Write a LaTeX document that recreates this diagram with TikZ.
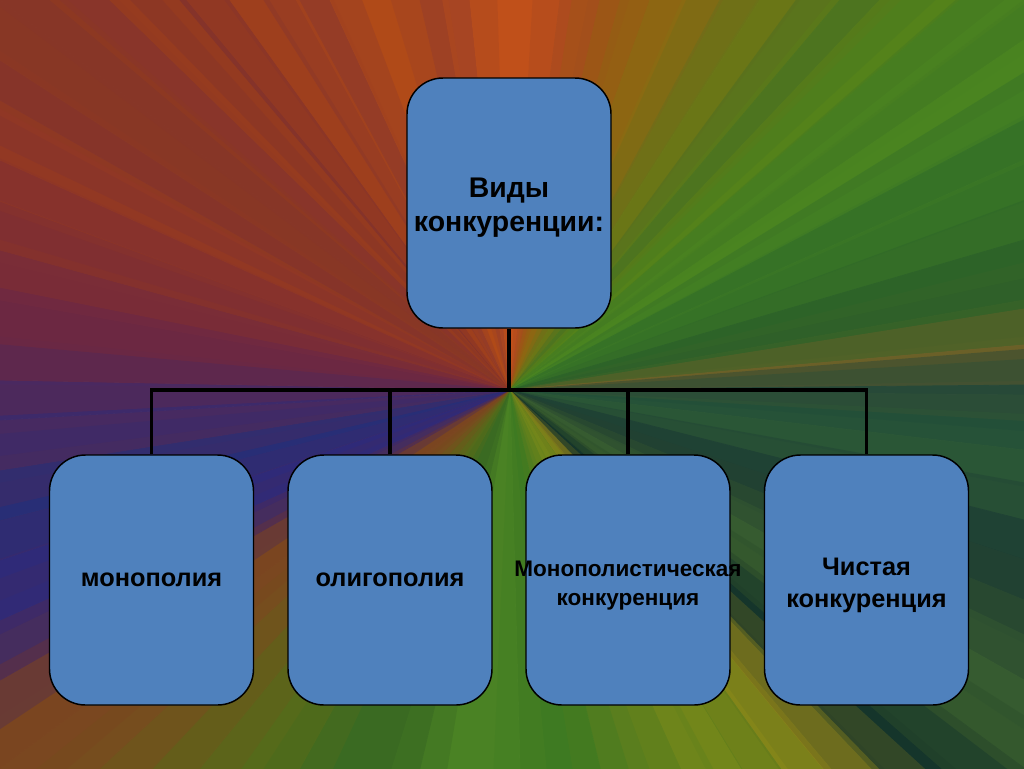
\documentclass[tikz,border=0pt]{standalone}
\usepackage{fontspec}
\setmainfont{Liberation Sans}
\usetikzlibrary{calc}
\definecolor{boxblue}{HTML}{4F81BD}
\begin{document}
\begin{tikzpicture}[x=0.75pt,y=-0.75pt,
  box/.style={draw=black, line width=1.1pt, fill=boxblue, rounded corners=27pt,
    minimum width=153pt, minimum height=187.5pt, inner sep=0pt, align=center,
    font=\bfseries\fontsize{19}{24}\selectfont},
  conn/.style={line width=2.4pt, draw=black},
  wedge/.style={fill=wc, draw=wc, line width=0.6pt},
  blend/.style={fill=wc, fill opacity=0.35}]
\useasboundingbox (0,0) rectangle (1024,768);
% ---------- radial background ----------
\coordinate (ctr) at (510,390);
\def\wedgelist{
  0/0/60/0/8C3A22, 60/0/110/0/7A2E3A, 110/0/180/0/A04018, 180/0/230/0/7E3030,
  230/0/300/0/A84418, 300/0/330/0/7E3236, 330/0/420/0/B04A18, 420/0/470/0/9A4028,
  470/0/560/0/C0501A, 560/0/600/0/A84A20, 600/0/650/0/9A5A14, 650/0/720/0/8A6A12,
  720/0/760/0/6E6E1A, 760/0/840/0/6A7A16, 840/0/880/0/3E6A28, 880/0/960/0/5A8218,
  960/0/1024/0/4A8220,
  1024/0/1024/40/3E7424, 1024/40/1024/120/4E8A20, 1024/120/1024/160/2E6A2A,
  1024/160/1024/240/3A7626, 1024/240/1024/300/2A5E2A, 1024/300/1024/345/3A6428,
  1024/345/1024/385/7A6028, 1024/385/1024/395/14403C, 1024/395/1024/450/224E3A,
  1024/450/1024/520/2E5A36, 1024/520/1024/600/1C3C34, 1024/600/1024/680/2C4C30,
  1024/680/1024/768/3A6030,
  1024/768/940/768/2A4A2A, 940/768/870/768/10302C, 870/768/830/768/6A6A20,
  830/768/780/768/9A8C18, 780/768/740/768/5A7A1C, 740/768/680/768/7A8A1A,
  680/768/600/768/5A7E1E, 600/768/520/768/3E7A22, 520/768/420/768/4A8224,
  420/768/300/768/3A6A22, 300/768/200/768/556A1A, 200/768/100/768/6A5A1A,
  100/768/0/768/7A4A20,
  0/768/0/680/7A4420, 0/680/0/620/4A2A5A, 0/620/0/560/2A2A80, 0/560/0/520/3A2A6A,
  0/520/0/470/24307A, 0/470/0/420/4E2A5A, 0/420/0/380/3A2A70, 0/380/0/300/6A2844,
  0/300/0/250/722A40, 0/250/0/200/8A3428, 0/200/0/160/7A2C3A, 0/160/0/100/9A3C1E,
  0/100/0/60/7E3034, 0/60/0/0/8C3A22}
\foreach \xa/\ya/\xb/\yb/\col in \wedgelist {
  \edef\tmpdef{\noexpand\definecolor{wc}{HTML}{\col}}\tmpdef
  \fill[wedge] (ctr) -- ($(ctr)!1.6!(\xa,\ya)$) -- ($(ctr)!1.6!(\xb,\yb)$) -- cycle;
}
\foreach \xa/\ya/\xb/\yb/\col in \wedgelist {
  \edef\tmpdef{\noexpand\definecolor{wc}{HTML}{\col}}\tmpdef
  \fill[blend] (ctr) -- ($(ctr)!1.6!4:(\xa,\ya)$) -- ($(ctr)!1.6!-4:(\xb,\yb)$) -- cycle;
}
% ---------- boxes ----------
\node[box, font=\bfseries\fontsize{21.3}{25.5}\selectfont] (top) at (509,203)
  {\rule{0pt}{21.5pt}Виды\\конкуренции:};
\node[box] (b1) at (151.5,580) {монополия};
\node[box] (b2) at (390,580) {олигополия};
\node[box, font=\bfseries\fontsize{16.9}{22}\selectfont] (b3) at (628,580)
  {\rule{0pt}{20pt}\makebox[0pt]{Монополистическая}\\\makebox[0pt]{конкуренция}};
\node[box] (b4) at (866.5,580) {\rule{0pt}{21.5pt}Чистая\\конкуренция};
% ---------- connectors ----------
\coordinate (bar) at (509,390);
\draw[conn] (top.south) -- (bar);
\draw[conn] (b1.north) -- (b1.north |- bar) -- (b4.north |- bar) -- (b4.north);
\draw[conn] (b2.north) -- (b2.north |- bar);
\draw[conn] (b3.north) -- (b3.north |- bar);
\end{tikzpicture}
\end{document}
